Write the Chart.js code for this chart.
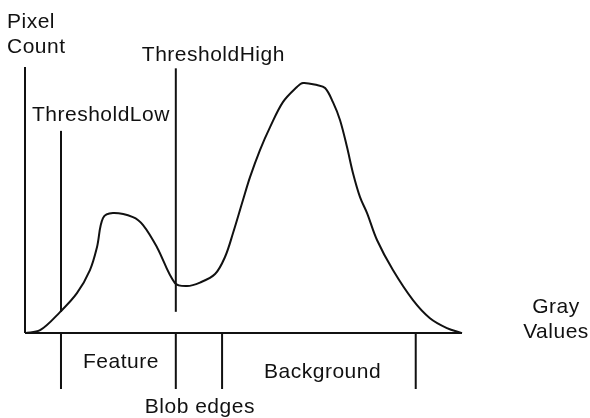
<!DOCTYPE html>
<html>
<head>
<meta charset="utf-8">
<script src="https://cdn.jsdelivr.net/npm/chart.js@4"></script>
<style>
  html, body { margin: 0; padding: 0; background: #fff; }
  #wrap { width: 590px; height: 418px; }
</style>
</head>
<body>
<div id="wrap"><canvas id="histChart" width="590" height="418"></canvas></div>
<script>
// histogram outline: gray value -> pixel count
const grayValues = [0, 8.8, 20.4, 30.3, 37.9, 42.0, 45.5, 51.3, 63.0, 68.9, 77.0, 87.5, 94.5, 102.1, 110.9, 116.7, 121.4, 127.2, 131.3, 137.1, 143.0, 150.5, 158.7, 162.2, 170.4, 175.1, 179.7, 183.8, 187.9, 191.4, 195.5, 199.6, 205.4, 214.7, 226.4, 236.3, 246.2, 255];
const pixelCounts = [0, 1.1, 7.9, 15.0, 23.7, 32.3, 43.2, 45.1, 43.6, 40.6, 32.3, 18.8, 17.7, 19.0, 22.2, 28.6, 37.6, 50.0, 58.6, 68.8, 77.4, 86.8, 92.5, 94.0, 93.2, 92.1, 86.8, 80.1, 69.9, 60.1, 51.1, 45.1, 35.0, 23.7, 12.4, 5.6, 1.9, 0];

// thresholds and region edges (gray values)
const thresholdLow = 21;
const thresholdHigh = 88;
const regionEdges = [21, 88, 115, 228];

// vertical extents of the threshold markers (pixel counts)
const thresholdLowSpan = [8, 76];
const thresholdHighSpan = [8, 99.5];
const edgeTickDepth = -21;
const countMax = 100;
const grayMax = 255;

const ink = '#111';

function vline(x, y0, y1) {
  return {
    data: [{x: x, y: y0}, {x: x, y: y1}],
    borderColor: ink, borderWidth: 2, pointRadius: 0, clip: false
  };
}

const datasets = [
  {
    // histogram curve
    data: grayValues.map((g, i) => ({x: g, y: pixelCounts[i]})),
    borderColor: ink, borderWidth: 2, pointRadius: 0,
    tension: 0.35, clip: false
  },
  // axes
  { data: [{x: 0, y: 0}, {x: grayMax, y: 0}], borderColor: ink, borderWidth: 2, pointRadius: 0, clip: false },
  vline(0, 0, countMax),
  vline(thresholdLow, thresholdLowSpan[0], thresholdLowSpan[1]),
  vline(thresholdHigh, thresholdHighSpan[0], thresholdHighSpan[1])
];
regionEdges.forEach(e => datasets.push(vline(e, 0, edgeTickDepth)));

const labelPlugin = {
  id: 'diagramLabels',
  afterDatasetsDraw(chart) {
    const {ctx, scales} = chart;
    const x = scales.x, y = scales.y;
    ctx.save();
    ctx.fillStyle = ink;
    ctx.font = '21px "Liberation Sans", Arial, sans-serif';
    ctx.letterSpacing = '0.5px';
    ctx.textBaseline = 'alphabetic';

    ctx.textAlign = 'left';
    const ax = x.getPixelForValue(0);
    const ay = y.getPixelForValue(countMax);
    ctx.fillText('Pixel', ax - 18, ay - 39);
    ctx.fillText('Count', ax - 18, ay - 14);

    ctx.fillText('ThresholdLow', x.getPixelForValue(thresholdLow) - 29, y.getPixelForValue(thresholdLowSpan[1]) - 10);
    ctx.fillText('ThresholdHigh', x.getPixelForValue(thresholdHigh) - 34, y.getPixelForValue(thresholdHighSpan[1]) - 7);

    const base = y.getPixelForValue(0);
    ctx.fillText('Feature', x.getPixelForValue(regionEdges[0]) + 22, base + 35);
    ctx.fillText('Background', x.getPixelForValue(regionEdges[2]) + 42, base + 45);
    ctx.fillText('Blob edges', x.getPixelForValue(regionEdges[1]) - 31, base + 80);

    ctx.textAlign = 'center';
    const gx = x.getPixelForValue(grayMax) + 94;
    ctx.fillText('Gray', gx, base - 20);
    ctx.fillText('Values', gx, base + 5);
    ctx.restore();
  }
};

new Chart(document.getElementById('histChart'), {
  type: 'line',
  data: { datasets: datasets },
  options: {
    responsive: false,
    animation: false,
    layout: { padding: { left: 25, right: 128, top: 67, bottom: 29 } },
    plugins: { legend: { display: false }, tooltip: { enabled: false } },
    scales: {
      x: { type: 'linear', min: 0, max: grayMax, display: false },
      y: { type: 'linear', min: edgeTickDepth, max: countMax, display: false }
    }
  },
  plugins: [labelPlugin]
});
</script>
</body>
</html>
